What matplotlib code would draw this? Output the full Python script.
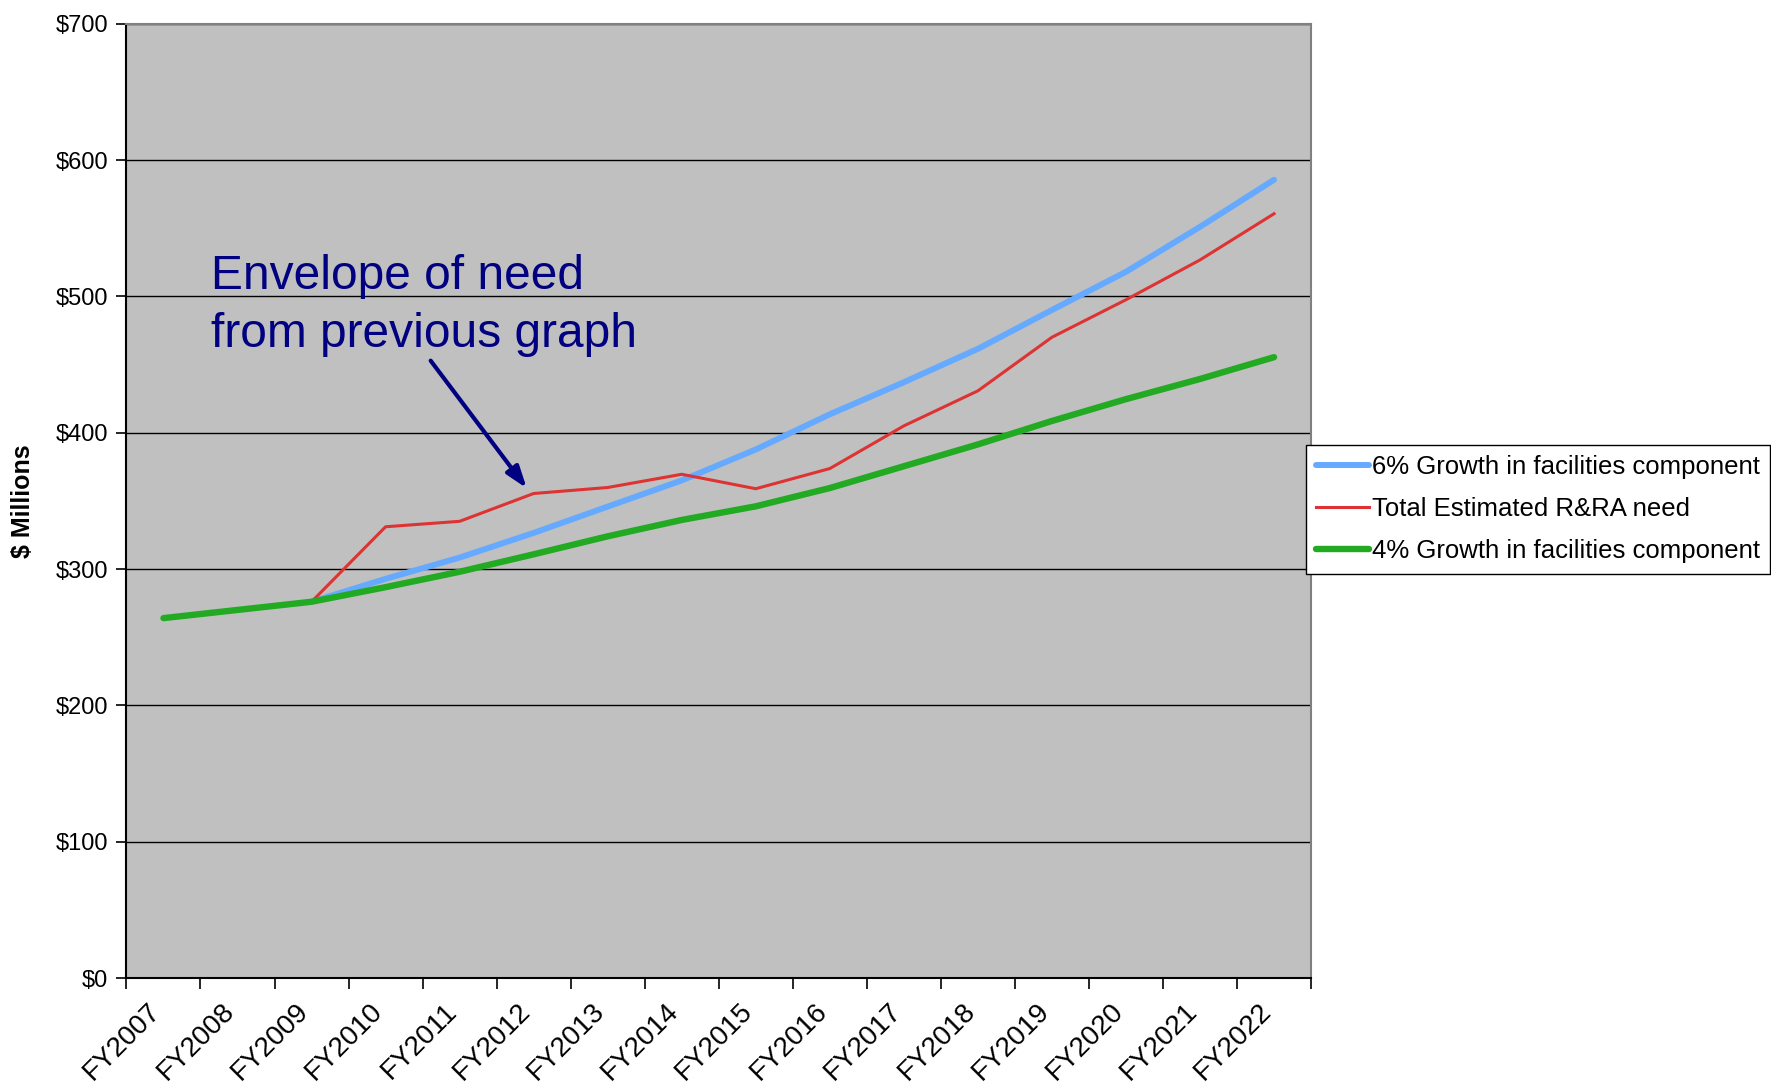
import matplotlib
matplotlib.use("Agg")
import matplotlib.pyplot as plt
from matplotlib.transforms import ScaledTranslation
import numpy as np

plt.rcParams['font.family'] = ['Liberation Sans', 'DejaVu Sans']

years = ["FY2007", "FY2008", "FY2009", "FY2010", "FY2011", "FY2012", "FY2013", "FY2014",
         "FY2015", "FY2016", "FY2017", "FY2018", "FY2019", "FY2020", "FY2021", "FY2022"]

growth6 = [264, 270, 276, 292.8, 308.4, 326.5, 345.8, 365, 387.7, 413.5, 437, 461.5, 490, 518, 551, 585.5]
total_need = [264, 270, 276, 331, 335, 355.4, 359.8, 369.5, 358.9, 373.7, 405, 430.7, 470, 497.5, 526.7, 560.6]
growth4 = [264, 270, 276, 286.7, 298, 310.8, 324, 336, 346, 359.4, 375.4, 391.4, 408.6, 424.6, 439.4, 455.4]

# blue/red begin where they diverge from the base (FY2009)
start_idx = 2

yticks = [0, 100, 200, 300, 400, 500, 600, 700]
ytick_labels = ["$0", "$100", "$200", "$300", "$400", "$500", "$600", "$700"]

fig = plt.figure(figsize=(17.71, 10.86), dpi=100)
ax = fig.add_axes([0.0714, 0.0994, 0.6689, 0.8788])
ax.set_facecolor("#C0C0C0")

x = np.arange(len(years))
l6, = ax.plot(x[start_idx:], growth6[start_idx:], color="#66AAFF", lw=4.3,
              solid_capstyle="round", label="6% Growth in facilities component", zorder=3)
lt, = ax.plot(x[start_idx:], total_need[start_idx:], color="#DD3333", lw=2.2,
              label="Total Estimated R&RA need", zorder=4)
l4, = ax.plot(x, growth4, color="#22AA22", lw=4.6, solid_capstyle="round",
              label="4% Growth in facilities component", zorder=5)

ax.set_xlim(-0.5, len(years) - 0.5)
ax.set_ylim(0, 700)
ax.set_yticks(yticks)
ax.set_yticklabels(ytick_labels, fontsize=17)
ax.yaxis.grid(True, color="black", lw=1.0)
ax.set_axisbelow(True)

# category boundaries carry the tick marks; labels sit at category centres
ax.set_xticks(np.arange(-0.5, len(years)))
ax.set_xticklabels([])
lab_tr = ax.get_xaxis_transform() + ScaledTranslation(-0.16, -0.205, fig.dpi_scale_trans)
for xi, name in zip(x, years):
    ax.text(xi, 0, name, transform=lab_tr, fontsize=20, rotation=45,
            ha="right", va="top", rotation_mode="anchor", clip_on=False)
ax.tick_params(axis="x", direction="out", length=8, width=1.2)
ax.tick_params(axis="y", direction="out", length=7, width=1.2, pad=6)

for s in ["left", "bottom"]:
    ax.spines[s].set_color("black")
    ax.spines[s].set_linewidth(1.5)
for s in ["top", "right"]:
    ax.spines[s].set_color("#808080")
    ax.spines[s].set_linewidth(1.5)

ax.set_ylabel("$ Millions", fontsize=18, fontweight="bold", labelpad=15)

ax.text(0.071, 0.722, "Envelope of need", transform=ax.transAxes, fontsize=34.5,
        color="#000080", va="baseline", ha="left")
ax.text(0.071, 0.6616, "from previous graph", transform=ax.transAxes, fontsize=34.5,
        color="#000080", va="baseline", ha="left")
ax.annotate("", xy=(0.3379, 0.5132), xytext=(0.2568, 0.6469),
            xycoords="axes fraction", textcoords="axes fraction",
            arrowprops=dict(arrowstyle="-|>,head_length=1.3,head_width=0.45",
                            color="#000080", lw=3, shrinkA=0, shrinkB=0), zorder=6)

leg = fig.legend(handles=[l6, lt, l4], loc="upper left",
                 bbox_to_anchor=(1306 / 1771, 1 - 445 / 1086), fontsize=18.5,
                 frameon=True, fancybox=False, edgecolor="black", framealpha=1,
                 handlelength=2.05, handletextpad=0.1, borderpad=0.4,
                 labelspacing=0.7, borderaxespad=0)
leg.get_frame().set_linewidth(1.0)

fig.savefig("out.png", dpi=100)
